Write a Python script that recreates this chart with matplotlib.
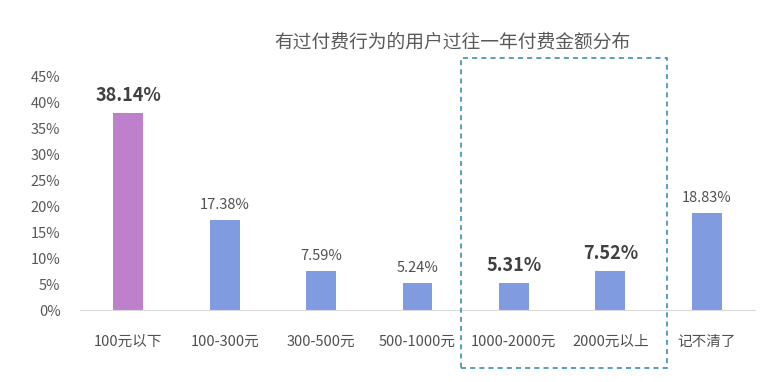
import matplotlib
matplotlib.use("Agg")
import matplotlib.pyplot as plt
from matplotlib.patches import Rectangle

plt.rcParams['font.family'] = ['Noto Sans CJK SC', 'DejaVu Sans']

categories = ["100元以下", "100-300元", "300-500元", "500-1000元", "1000-2000元", "2000元以上", "记不清了"]
values = [38.14, 17.38, 7.59, 5.24, 5.31, 7.52, 18.83]
bold_labels = [True, False, False, False, True, True, False]
colors = ["#BE80CA", "#809BE0", "#809BE0", "#809BE0", "#809BE0", "#809BE0", "#809BE0"]
yticks = [0, 5, 10, 15, 20, 25, 30, 35, 40, 45]
title = "有过付费行为的用户过往一年付费金额分布"

W, H = 766, 382
fig = plt.figure(figsize=(W / 100, H / 100), dpi=100)
ax = fig.add_axes([80 / W, (H - 310) / H, (755 - 80) / W, (310 - 77) / H])

x = list(range(len(categories)))
ax.bar(x, values, width=0.31, color=colors, zorder=2)
ax.set_xlim(-0.5, len(categories) - 0.5)
ax.set_ylim(0, 45)
ax.set_yticks(yticks)
ax.set_yticklabels([f"{t}%" for t in yticks], color="#595959", fontsize=10.5)
ax.set_xticks(x)
ax.set_xticklabels(categories, color="#505050", fontsize=10.5)
ax.tick_params(axis='both', length=0)
ax.tick_params(axis='x', pad=18)
ax.tick_params(axis='y', pad=14)
for s in ["top", "right", "left"]:
    ax.spines[s].set_visible(False)
ax.spines["bottom"].set_color("#D9D9D9")

for xi, v, b in zip(x, values, bold_labels):
    if b:
        ax.text(xi, v + 1.5, f"{v:.2f}%", ha="center", va="bottom", fontsize=13,
                fontweight="bold", color="#404040")
    else:
        ax.text(xi, v + 1.5, f"{v:.2f}%", ha="center", va="bottom", fontsize=10.5,
                color="#505050")

fig.text(452 / W, 1 - 42 / H, title, ha="center", va="center", fontsize=13.5, color="#595959")

rect = Rectangle((461 / W, 1 - 368 / H), (667 - 461) / W, (368 - 58) / H,
                 transform=fig.transFigure, fill=False, edgecolor="#3A8FB5",
                 linestyle=(0, (3, 2.5)), linewidth=1.2, clip_on=False)
fig.patches.append(rect)

fig.savefig("out.png", dpi=100, facecolor="white")
